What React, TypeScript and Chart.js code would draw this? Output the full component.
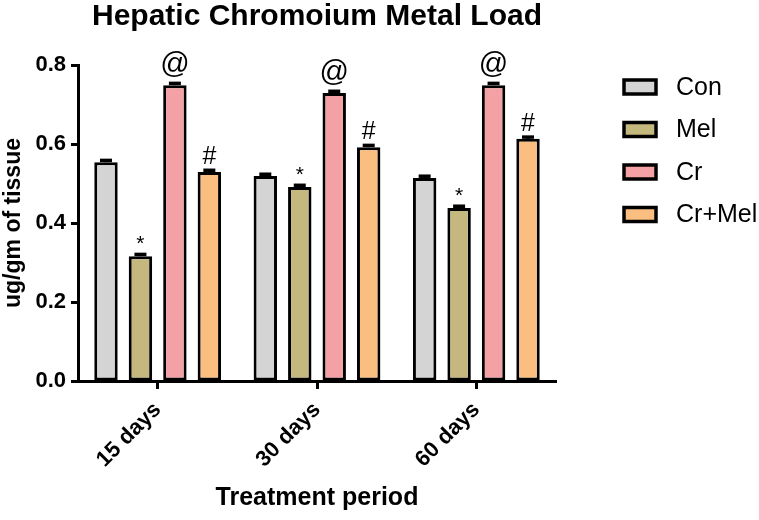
import React, { useEffect, useRef } from "react";
import { Chart, registerables } from "chart.js";

Chart.register(...registerables);

const categories = ["15 days", "30 days", "60 days"];
const seriesNames = ["Con", "Mel", "Cr", "Cr+Mel"];
const conValues = [0.554, 0.519, 0.514];
const melValues = [0.316, 0.491, 0.438];
const crValues = [0.749, 0.729, 0.749];
const crMelValues = [0.529, 0.592, 0.613];
const conErr = [0.007, 0.007, 0.007];
const melErr = [0.007, 0.007, 0.007];
const crErr = [0.007, 0.007, 0.007];
const crMelErr = [0.007, 0.007, 0.007];
const marks = ["", "*", "@", "#"];
const yTicks = [0, 0.2, 0.4, 0.6, 0.8];
const colors = ["#D3D4D3", "#C5B87F", "#F4A1A6", "#FABF80"];

const FONT = "'Liberation Sans', Arial, Helvetica, sans-serif";

const errorAndMarks = {
  id: "errorAndMarks",
  afterDatasetsDraw(chart: any) {
    const ctx = chart.ctx;
    const y = chart.scales.y;
    const errs = [conErr, melErr, crErr, crMelErr];
    chart.data.datasets.forEach((ds: any, di: number) => {
      const meta = chart.getDatasetMeta(di);
      meta.data.forEach((bar: any, i: number) => {
        const v = ds.data[i];
        const top = y.getPixelForValue(v + errs[di][i]);
        const x = bar.x;
        ctx.save();
        ctx.strokeStyle = "#000";
        ctx.lineWidth = 3;
        ctx.beginPath();
        ctx.moveTo(x, bar.y);
        ctx.lineTo(x, top);
        ctx.stroke();
        ctx.lineWidth = 3.5;
        ctx.beginPath();
        ctx.moveTo(x - 6, top + 1);
        ctx.lineTo(x + 6, top + 1);
        ctx.stroke();
        const m = marks[di];
        if (m) {
          ctx.fillStyle = "#000";
          ctx.textAlign = "center";
          ctx.textBaseline = "alphabetic";
          if (m === "@") {
            ctx.font = `29px ${FONT}`;
            ctx.fillText(m, x, top - 9);
          } else if (m === "#") {
            ctx.font = `25px ${FONT}`;
            ctx.fillText(m, x, top - 5);
          } else {
            ctx.font = `21px ${FONT}`;
            ctx.fillText(m, x, top - 3);
          }
        }
        ctx.restore();
      });
    });
  },
};

const titleAndLegend = {
  id: "titleAndLegend",
  afterDraw(chart: any) {
    const ctx = chart.ctx;
    const area = chart.chartArea;
    ctx.save();
    ctx.fillStyle = "#000";
    ctx.textAlign = "center";
    ctx.textBaseline = "middle";
    ctx.font = `bold 30px ${FONT}`;
    ctx.fillText("Hepatic Chromoium Metal Load", (area.left + area.right) / 2, 17);

    chart.data.datasets.forEach((ds: any, i: number) => {
      const cy = 87 + i * 42.5;
      ctx.fillStyle = ds.backgroundColor;
      ctx.fillRect(624, cy - 7, 32, 14);
      ctx.strokeStyle = "#000";
      ctx.lineWidth = 3.5;
      ctx.strokeRect(624, cy - 7, 32, 14);
      ctx.fillStyle = "#000";
      ctx.textAlign = "left";
      ctx.textBaseline = "middle";
      ctx.font = `25px ${FONT}`;
      ctx.fillText(ds.label, 676, cy + 1);
    });
    ctx.restore();
  },
};

export default function App() {
  const ref = useRef<HTMLCanvasElement | null>(null);
  useEffect(() => {
    document.body.style.margin = "0";
    const values = [conValues, melValues, crValues, crMelValues];
    const chart = new Chart(ref.current as HTMLCanvasElement, {
      type: "bar",
      data: {
        labels: categories,
        datasets: seriesNames.map((name, i) => ({
          label: name,
          data: values[i],
          backgroundColor: colors[i],
          borderColor: "#000",
          borderWidth: 3,
          borderSkipped: false,
          categoryPercentage: 0.865,
          barPercentage: 0.68,
        })),
      },
      options: {
        animation: false,
        responsive: false,
        devicePixelRatio: 1,
        layout: { padding: { top: 65, right: 203, left: 0, bottom: 0 } },
        plugins: {
          legend: { display: false },
          title: { display: false },
          tooltip: { enabled: false },
        },
        scales: {
          x: {
            type: "category",
            offset: true,
            grid: {
              display: true,
              drawOnChartArea: false,
              drawTicks: true,
              tickLength: 8,
              tickWidth: 3,
              tickColor: "#000",
              offset: false,
            },
            border: { display: true, color: "#000", width: 3 },
            ticks: {
              color: "#000",
              font: { family: FONT, size: 22, weight: "bold" },
              minRotation: 45,
              maxRotation: 45,
              padding: 8,
            },
            title: {
              display: true,
              text: "Treatment period",
              color: "#000",
              font: { family: FONT, size: 25, weight: "bold" },
              padding: { top: 0, bottom: 7 },
            },
            afterFit(scale: any) {
              scale.height = 139;
            },
          },
          y: {
            min: 0,
            max: 0.8,
            afterBuildTicks(scale: any) {
              scale.ticks = yTicks.map((v) => ({ value: v }));
            },
            grid: {
              display: true,
              drawOnChartArea: false,
              drawTicks: true,
              tickLength: 7,
              tickWidth: 3,
              tickColor: "#000",
            },
            border: { display: true, color: "#000", width: 3 },
            ticks: {
              color: "#000",
              font: { family: FONT, size: 22, weight: "bold" },
              padding: 5,
              callback: (v: any) => Number(v).toFixed(1),
            },
            title: {
              display: true,
              text: "ug/gm of tissue",
              color: "#000",
              font: { family: FONT, size: 23, weight: "bold" },
              padding: { top: 0, bottom: 0 },
            },
            afterFit(scale: any) {
              scale.width = 78;
            },
          },
        },
      },
      plugins: [errorAndMarks, titleAndLegend],
    } as any);
    return () => chart.destroy();
  }, []);
  return (
    <div style={{ position: "absolute", left: 0, top: 0, width: 759, height: 520, background: "#fff" }}>
      <canvas ref={ref} width={759} height={520} style={{ width: 759, height: 520, display: "block" }} />
    </div>
  );
}
